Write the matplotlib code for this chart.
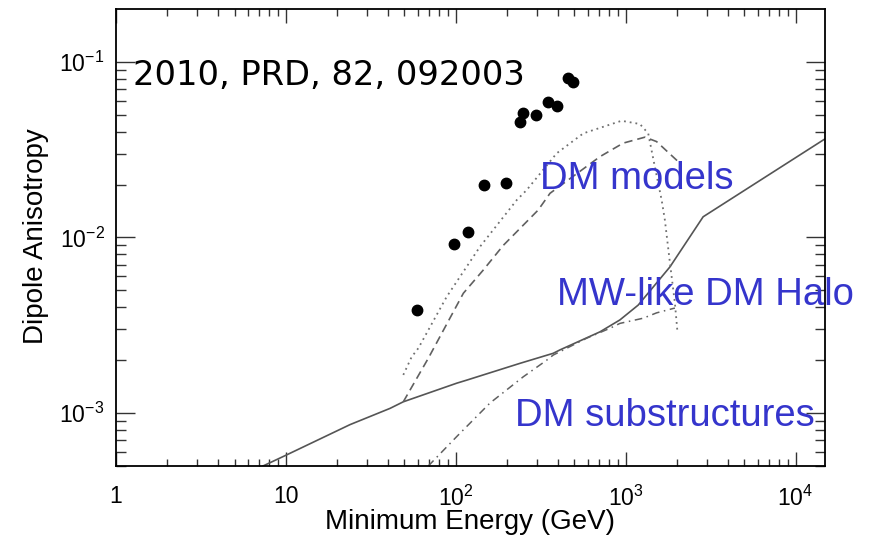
import matplotlib
matplotlib.use('Agg')
import matplotlib.pyplot as plt
from matplotlib.ticker import FixedLocator, FixedFormatter, LogLocator, NullFormatter

plt.rcParams['font.family'] = ['Liberation Sans', 'DejaVu Sans']
plt.rcParams['mathtext.default'] = 'regular'

# Измеренная дипольная анизотропия (точки)
data_e = [59.4, 98, 118, 147, 197, 239, 248, 296, 348, 394, 456, 488]
data_a = [0.00386, 0.00914, 0.0107, 0.0198, 0.0205, 0.0456, 0.0508, 0.0497,
          0.059, 0.0557, 0.0804, 0.077]

# MW-like DM halo (сплошная)
halo_e = [7.35, 10, 23.9, 41.1, 49.2, 101.4, 116, 239, 375, 411, 706, 925,
          1186, 1824, 2858, 14520, 15000]
halo_a = [5.0e-4, 5.75e-4, 8.6e-4, 1.064e-3, 1.16e-3, 1.48e-3, 1.54e-3,
          1.92e-3, 2.19e-3, 2.29e-3, 2.90e-3, 3.39e-3, 4.12e-3, 6.8e-3,
          0.0131, 0.0358, 0.0365]

# DM модель 1 (точечная)
dot_e = [49.2, 55.1, 60.3, 88.5, 139, 229, 262, 393, 564, 946, 1213, 1358,
         1486, 1629, 1702, 1824, 1950, 2014]
dot_a = [1.65e-3, 2.09e-3, 2.34e-3, 4.59e-3, 8.85e-3, 0.01633, 0.01862,
         0.0301, 0.0391, 0.0461, 0.0442, 0.0391, 0.0252, 0.01633, 0.01256,
         7.13e-3, 4.22e-3, 2.97e-3]

# DM модель 2 (штриховая)
dash_e = [49.2, 69.0, 111, 145, 190.5, 306, 359, 706, 968, 1300, 1521, 2038]
dash_a = [1.16e-3, 2.05e-3, 4.81e-3, 6.5e-3, 9.0e-3, 0.01432, 0.01782,
          0.0288, 0.0344, 0.0372, 0.0351, 0.027]

# DM substructures (штрих-пунктир)
sub_e = [69, 101.4, 159, 250, 343, 375, 590, 809, 925, 1271, 1521, 1905, 1950]
sub_a = [5.0e-4, 7.35e-4, 1.14e-3, 1.61e-3, 2.00e-3, 2.14e-3, 2.67e-3,
         3.04e-3, 3.24e-3, 3.47e-3, 3.72e-3, 3.94e-3, 3.96e-3]

xtick_vals = [1, 10, 100, 1000, 10000]
xtick_labels = ['1', '10', '$10^{2}$', '$10^{3}$', '$10^{4}$']
ytick_vals = [1e-3, 1e-2, 1e-1]
ytick_labels = ['$10^{\u22123}$', '$10^{\u22122}$', '$10^{\u22121}$']

fig = plt.figure(figsize=(8.7, 5.39), dpi=100)
ax = fig.add_axes([0.133, 0.1354, 0.8153, 0.8473])
ax.set_xscale('log')
ax.set_yscale('log')

ax.plot(halo_e, halo_a, color='#555555', lw=1.2, ls='-')
ax.plot(dot_e, dot_a, color='#707070', lw=1.3, ls=(0, (1, 2.2)))
ax.plot(dash_e, dash_a, color='#606060', lw=1.2, ls=(0, (5, 3)))
ax.plot(sub_e, sub_a, color='#606060', lw=1.1, ls=(0, (5, 3, 1, 3)))
ax.plot(data_e, data_a, 'o', color='black', ms=7.5, mec='black')

ax.set_xlim(1, 1.49e4)
ax.set_ylim(5.0e-4, 0.1986)

ax.xaxis.set_major_locator(FixedLocator(xtick_vals))
ax.xaxis.set_major_formatter(FixedFormatter(xtick_labels))
ax.yaxis.set_major_locator(FixedLocator(ytick_vals))
ax.yaxis.set_major_formatter(FixedFormatter(ytick_labels))
ax.xaxis.set_minor_locator(LogLocator(base=10, subs=range(2, 10), numticks=20))
ax.yaxis.set_minor_locator(LogLocator(base=10, subs=range(2, 10), numticks=20))
ax.xaxis.set_minor_formatter(NullFormatter())
ax.yaxis.set_minor_formatter(NullFormatter())

ax.tick_params(which='both', direction='in', top=True, right=True, width=1.0,
               color='#333333', labelsize=16.5)
ax.tick_params(axis='x', which='major', length=10, pad=14)
ax.tick_params(axis='x', which='minor', length=5)
ax.tick_params(axis='y', which='major', length=14, pad=8)
ax.tick_params(axis='y', which='minor', length=7)
for s in ax.spines.values():
    s.set_linewidth(1.3)

ax.set_xlabel('Minimum Energy (GeV)', fontsize=20)
ax.set_ylabel('Dipole Anisotropy', fontsize=20)
ax.xaxis.set_label_coords(0.5, -0.122)
ax.xaxis.label.set_va('center')
ax.yaxis.set_label_coords(-0.1130, 0.5025)
ax.yaxis.label.set_va('center')

ax.text(0.0244, 0.834, '2010, PRD, 82, 092003', transform=ax.transAxes,
        fontsize=24.3, family='DejaVu Sans', va='baseline', color='black')
blue = '#3535cc'
ax.text(0.598, 0.606, 'DM models', transform=ax.transAxes, fontsize=27.5,
        color=blue, va='baseline')
ax.text(0.622, 0.3525, 'MW-like DM Halo', transform=ax.transAxes,
        fontsize=27.5, color=blue, va='baseline', clip_on=False)
ax.text(0.563, 0.0882, 'DM substructures', transform=ax.transAxes,
        fontsize=27.5, color=blue, va='baseline')

fig.savefig('out.png', dpi=100)
